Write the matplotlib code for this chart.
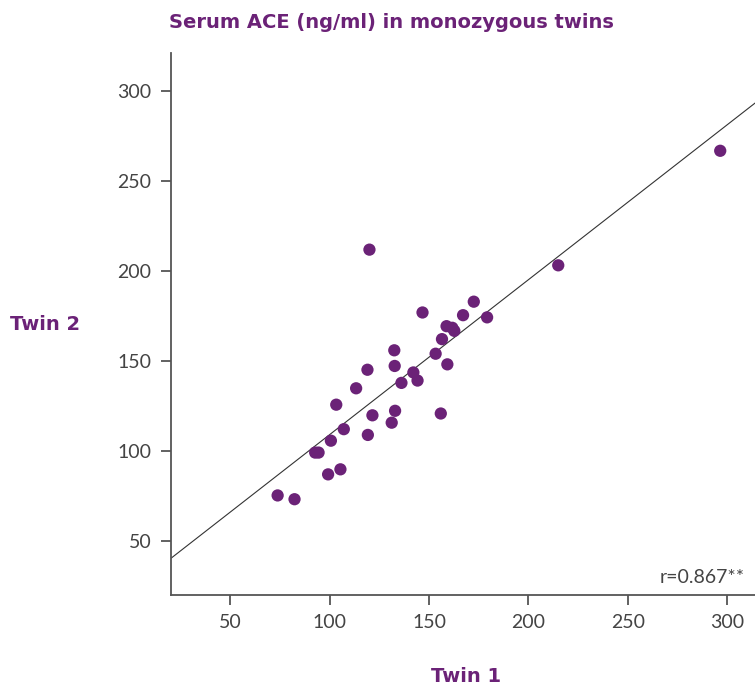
import numpy as np
import matplotlib
matplotlib.use("Agg")
import matplotlib.pyplot as plt

# Serum ACE (ng/ml) for each monozygous twin pair
twin1 = [73.8, 82.3, 92.7, 94.4, 99.2, 105.4, 100.6, 107.1, 103.3, 113.3,
         119.0, 120.0, 119.2, 121.5, 131.2, 132.9, 132.7, 132.5, 136.1, 142.1,
         144.2, 146.7, 153.3, 155.9, 156.5, 159.2, 158.8, 161.7, 162.7, 167.1,
         172.5, 179.2, 215.0, 296.5]
twin2 = [75.3, 73.2, 99.1, 99.1, 87.0, 89.8, 105.7, 112.1, 125.7, 134.8,
         145.1, 211.8, 108.9, 119.8, 115.7, 122.3, 147.2, 155.9, 137.8, 143.6,
         139.1, 176.9, 154.0, 120.8, 162.1, 148.1, 169.3, 168.4, 166.7, 175.4,
         182.9, 174.2, 203.1, 266.7]
xticks = [50, 100, 150, 200, 250, 300]
yticks = [50, 100, 150, 200, 250, 300]
r_label = "r=0.867**"

purple = "#6B2277"
grey = "#555555"

plt.rcParams["font.family"] = ["Lato", "DejaVu Sans"]

fig = plt.figure(figsize=(7.55, 6.84), dpi=100)
ax = fig.add_axes([0.2261, 0.1301, 0.7739, 0.7924])

x = np.array(twin1)
y = np.array(twin2)
slope, intercept = np.polyfit(x, y, 1)
xl = np.array([20, 320])
ax.plot(xl, intercept + slope * xl, color="#333333", lw=0.8, zorder=1)

ax.scatter(x, y, s=78, color=purple, edgecolors="none", zorder=2)

ax.set_xlim(20, 314)
ax.set_ylim(20, 321)
ax.set_xticks(xticks)
ax.set_yticks(yticks)

for s in ["top", "right"]:
    ax.spines[s].set_visible(False)
for s in ["left", "bottom"]:
    ax.spines[s].set_color(grey)
    ax.spines[s].set_linewidth(1.3)
ax.tick_params(axis="both", colors=grey, length=7, width=1.3,
               labelsize=14, labelcolor="#444444", pad=7)

ax.text(0.983, 0.022, r_label, transform=ax.transAxes, ha="right",
        va="baseline", fontsize=14, color="#444444")

bold = dict(fontsize=14, fontweight="bold", color=purple,
            family=["DejaVu Sans"])
fig.text(391 / 755, 1 - 23 / 684, "Serum ACE (ng/ml) in monozygous twins",
         ha="center", va="center", **bold)
fig.text(10 / 755, 1 - 325 / 684, "Twin 2", ha="left", va="center", **bold)
fig.text(466 / 755, 1 - 676 / 684, "Twin 1", ha="center", va="center", **bold)

fig.savefig("out.png", dpi=100)
